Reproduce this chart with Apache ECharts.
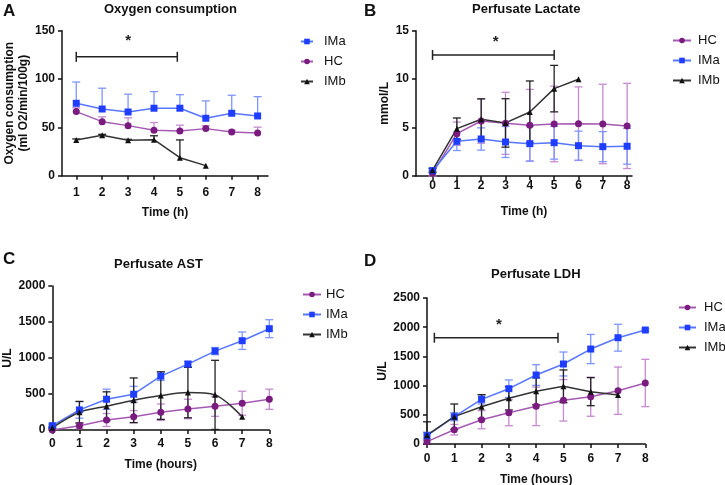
<!DOCTYPE html>
<html>
<head>
<meta charset="utf-8">
<script src="https://cdn.jsdelivr.net/npm/echarts@6/dist/echarts.min.js"></script>
<style>
  html, body { margin: 0; padding: 0; background: #fff; }
  #main { width: 725px; height: 485px; }
</style>
</head>
<body>
<div id="main"></div>
<script>
// ---- data ----
// A: oxygen consumption (ml O2/min/100g), hours 1..8
const hoursA = [1, 2, 3, 4, 5, 6, 7, 8];
const imaA = [74.9, 69, 65.9, 69.8, 69.8, 59.4, 64.6, 61.8];
const imaAsd = [22, 21.5, 18.4, 17.2, 14, 18, 18.6, 20];
const hcA = [66.3, 55.9, 51.8, 47, 46.3, 48.7, 45.2, 44.2];
const hcAsd = [4, 5, 8, 8, 6, 3, 2, 6];
const hoursAb = [1, 2, 3, 4, 5, 6];
const imbA = [37, 41.8, 36.6, 37.3, 18.6, 10.4];
const imbAsd = [1, 1, 1, 4, 18.4, 0];

// B: perfusate lactate (mmol/L), hours 0..8
const hours = [0, 1, 2, 3, 4, 5, 6, 7, 8];
const hcB = [0.28, 4.37, 5.68, 5.44, 5.24, 5.37, 5.4, 5.37, 5.17];
const hcBsd = [0.3, 1.2, 2.3, 3.2, 3.7, 3.9, 3.8, 4.1, 4.4];
const imaB = [0.55, 3.58, 3.82, 3.51, 3.34, 3.44, 3.13, 3.03, 3.07];
const imaBsd = [0.2, 0.95, 1.15, 1.6, 1.8, 1.7, 1.5, 1.55, 1.85];
const hoursBb = [0, 1, 2, 3, 4, 5, 6];
const imbB = [0.6, 4.89, 5.86, 5.48, 6.61, 9.02, 9.99];
const imbBsd = [0.2, 1.1, 2.1, 2.5, 3.2, 2.4, 0];

// C: perfusate AST (U/L)
const hcC = [0, 60, 139, 185, 247, 292, 330, 372, 427];
const hcCsd = [5, 40, 90, 85, 115, 135, 140, 167, 140];
const imaC = [60, 279, 427, 497, 748, 915, 1096, 1240, 1407];
const imaCsd = [20, 115, 140, 110, 60, 40, 50, 121, 125];
const hoursCb = [0, 1, 2, 3, 4, 5, 6, 7];
const imbC = [32, 247, 330, 413, 478, 520, 488, 185];
const imbCsd = [10, 150, 200, 310, 330, 350, 480, 0];

// D: perfusate LDH (U/L)
const hcD = [40, 245, 416, 536, 645, 748, 810, 913, 1045];
const hcDsd = [30, 90, 155, 223, 330, 355, 335, 405, 405];
const imaD = [142, 468, 765, 947, 1181, 1370, 1626, 1820, 1952];
const imaDsd = [60, 70, 80, 150, 177, 205, 250, 230, 20];
const hoursDb = [0, 1, 2, 3, 4, 5, 6, 7];
const imbD = [150, 468, 639, 782, 902, 988, 896, 839];
const imbDsd = [230, 217, 205, 200, 230, 280, 240, 0];

// significance brackets: [x from, x to, y, star x, star y]
const bracketA = [1, 4.9, 123, 3, 140];
const bracketB = [0, 5, 12.5, 2.6, 13.8];
const bracketD = [0.27, 4.8, 1820, 2.64, 2040];

// ---- styles ----
const FONT = 'Liberation Sans, Arial, sans-serif';
const groups = {
  IMa: { marker: '#1f3dff', line: '#5676ff', err: '#7d95ff', symbol: 'rect', size: 7 },
  HC:  { marker: '#7a1b80', line: '#a659b3', err: '#c58ad0', symbol: 'circle', size: 7 },
  IMb: { marker: '#111111', line: '#333333', err: '#222222', symbol: 'triangle', size: 6 }
};

function lineSeries(name, gi, xs, ys, smooth) {
  const g = groups[name];
  return {
    type: 'line', name: name, xAxisIndex: gi, yAxisIndex: gi,
    data: xs.map((x, i) => [x, ys[i]]),
    symbol: g.symbol, symbolSize: g.size, smooth: smooth || false,
    lineStyle: { color: g.line, width: 1.5 },
    itemStyle: { color: g.marker },
    z: 5, silent: true
  };
}

function errSeries(name, gi, xs, ys, sd, upOnly) {
  const g = groups[name];
  return {
    type: 'custom', xAxisIndex: gi, yAxisIndex: gi, silent: true, z: 3,
    data: xs.map((x, i) => [x, ys[i], sd[i]]),
    renderItem: function (params, api) {
      const x = api.value(0), y = api.value(1), e = api.value(2);
      if (!e) return null;
      const top = api.coord([x, y + e]);
      const bot = api.coord([x, upOnly ? y : Math.max(0, y - e)]);
      const st = { stroke: g.err, lineWidth: 1.3 };
      const kids = [
        { type: 'line', shape: { x1: top[0], y1: top[1], x2: bot[0], y2: bot[1] }, style: st },
        { type: 'line', shape: { x1: top[0] - 4, y1: top[1], x2: top[0] + 4, y2: top[1] }, style: st }
      ];
      if (!upOnly) {
        kids.push({ type: 'line', shape: { x1: bot[0] - 4, y1: bot[1], x2: bot[0] + 4, y2: bot[1] }, style: st });
      }
      return { type: 'group', children: kids };
    }
  };
}

function bracketSeries(gi, b) {
  return {
    type: 'custom', xAxisIndex: gi, yAxisIndex: gi, silent: true, z: 6,
    data: [b],
    renderItem: function (params, api) {
      const p1 = api.coord([api.value(0), api.value(2)]);
      const p2 = api.coord([api.value(1), api.value(2)]);
      const s = api.coord([api.value(3), api.value(4)]);
      const st = { stroke: '#222', lineWidth: 1.5 };
      return {
        type: 'group', children: [
          { type: 'line', shape: { x1: p1[0], y1: p1[1], x2: p2[0], y2: p2[1] }, style: st },
          { type: 'line', shape: { x1: p1[0], y1: p1[1] - 5, x2: p1[0], y2: p1[1] + 5 }, style: st },
          { type: 'line', shape: { x1: p2[0], y1: p2[1] - 5, x2: p2[0], y2: p2[1] + 5 }, style: st },
          { type: 'text', x: s[0], y: s[1], style: { text: '*', fill: '#222', font: 'bold 15px ' + FONT, align: 'center', verticalAlign: 'middle' } }
        ]
      };
    }
  };
}

const axisLine = { show: true, onZero: false, lineStyle: { color: '#111', width: 1.5 } };
const axisTick = { show: true, length: 4, lineStyle: { color: '#111', width: 1.5 } };
const labelStyle = { color: '#111', fontFamily: FONT, fontWeight: 'bold', fontSize: 12, formatter: v => String(v) };
const nameStyle = { color: '#111', fontFamily: FONT, fontWeight: 'bold', fontSize: 12, lineHeight: 14 };

function xAxis(gi, min, max, ticks, name, margin, gap) {
  return {
    type: 'value', gridIndex: gi, min: min, max: max, interval: 1,
    axisLine: axisLine,
    axisTick: Object.assign({ customValues: ticks }, axisTick),
    axisLabel: Object.assign({ customValues: ticks, margin: margin }, labelStyle),
    splitLine: { show: false },
    name: name, nameLocation: 'middle', nameGap: gap, nameTextStyle: nameStyle
  };
}

function yAxis(gi, max, interval, name, gap) {
  return {
    type: 'value', gridIndex: gi, min: 0, max: max, interval: interval,
    axisLine: axisLine, axisTick: axisTick,
    axisLabel: Object.assign({ margin: 7 }, labelStyle),
    splitLine: { show: false },
    name: name, nameLocation: 'middle', nameRotate: 90, nameGap: gap, nameTextStyle: nameStyle
  };
}

function legend(names, left, top, w, gap) {
  return {
    data: names, left: left, top: top, orient: 'vertical',
    itemWidth: w, itemHeight: 7, itemGap: 7, padding: 0,
    textStyle: { color: '#111', fontFamily: FONT, fontSize: 13, padding: [0, 0, 0, gap - 5], overflow: 'none' },
    selectedMode: false
  };
}

function label(text, x, y, size, weight) {
  return { type: 'text', left: x, top: y, style: { text: text, fill: '#111', font: weight + ' ' + size + 'px ' + FONT } };
}

const chart = echarts.init(document.getElementById('main'));

const option = {
  backgroundColor: '#fff',
  animation: false,
  grid: [
    { left: 62, top: 30.7, width: 206, height: 145, outerBoundsMode: 'none' },
    { left: 416, top: 30.7, width: 216, height: 145.3, outerBoundsMode: 'none' },
    { left: 52.3, top: 286, width: 217, height: 144, outerBoundsMode: 'none' },
    { left: 427, top: 298, width: 218.3, height: 146, outerBoundsMode: 'none' }
  ],
  xAxis: [
    xAxis(0, 0.45, 8.4, hoursA, 'Time (h)', 11, 30),
    xAxis(1, -0.68, 8.2, hours, 'Time (h)', 4, 29),
    xAxis(2, 0, 8, hours, 'Time (hours)', 8, 28),
    xAxis(3, 0, 8, hours, 'Time (hours)', 9, 29)
  ],
  yAxis: [
    yAxis(0, 150, 50, 'Oxygen consumption\n(ml O2/min/100g)', 30),
    yAxis(1, 15, 5, 'mmol/L', 22),
    yAxis(2, 2000, 500, 'U/L', 37),
    yAxis(3, 2500, 500, 'U/L', 36)
  ],
  legend: [
    legend(['IMa', 'HC', 'IMb'], 300, 35, 12, 11),
    legend(['HC', 'IMa', 'IMb'], 672, 34, 18, 7),
    legend(['HC', 'IMa', 'IMb'], 302, 288, 18, 5),
    legend(['HC', 'IMa', 'IMb'], 678, 301, 17, 8)
  ],
  graphic: [
    label('A', 3, 3, 17, 'bold'),
    label('B', 364, 3, 17, 'bold'),
    label('C', 3, 251, 17, 'bold'),
    label('D', 364, 253, 17, 'bold'),
    { type: 'text', left: 104, top: 3, style: { text: 'Oxygen consumption', fill: '#111', font: 'bold 13px ' + FONT } },
    { type: 'text', left: 472, top: 3, style: { text: 'Perfusate Lactate', fill: '#111', font: 'bold 13px ' + FONT } },
    { type: 'text', left: 114, top: 258, style: { text: 'Perfusate AST', fill: '#111', font: 'bold 13px ' + FONT } },
    { type: 'text', left: 491, top: 268, style: { text: 'Perfusate LDH', fill: '#111', font: 'bold 13px ' + FONT } }
  ],
  series: [
    // A
    errSeries('IMa', 0, hoursA, imaA, imaAsd, true),
    errSeries('HC', 0, hoursA, hcA, hcAsd, true),
    errSeries('IMb', 0, hoursAb, imbA, imbAsd, true),
    lineSeries('IMa', 0, hoursA, imaA),
    lineSeries('HC', 0, hoursA, hcA),
    lineSeries('IMb', 0, hoursAb, imbA),
    bracketSeries(0, bracketA),
    // B
    errSeries('HC', 1, hours, hcB, hcBsd),
    errSeries('IMa', 1, hours, imaB, imaBsd),
    errSeries('IMb', 1, hoursBb, imbB, imbBsd),
    lineSeries('HC', 1, hours, hcB),
    lineSeries('IMa', 1, hours, imaB),
    lineSeries('IMb', 1, hoursBb, imbB),
    bracketSeries(1, bracketB),
    // C
    errSeries('HC', 2, hours, hcC, hcCsd),
    errSeries('IMa', 2, hours, imaC, imaCsd),
    errSeries('IMb', 2, hoursCb, imbC, imbCsd),
    lineSeries('HC', 2, hours, hcC),
    lineSeries('IMa', 2, hours, imaC),
    lineSeries('IMb', 2, hoursCb, imbC, 0.3),
    // D
    errSeries('HC', 3, hours, hcD, hcDsd),
    errSeries('IMa', 3, hours, imaD, imaDsd),
    errSeries('IMb', 3, hoursDb, imbD, imbDsd),
    lineSeries('HC', 3, hours, hcD),
    lineSeries('IMa', 3, hours, imaD),
    lineSeries('IMb', 3, hoursDb, imbD),
    bracketSeries(3, bracketD)
  ]
};

chart.setOption(option);

window.addEventListener('resize', function () {
  chart.resize();
});
</script>
</body>
</html>
